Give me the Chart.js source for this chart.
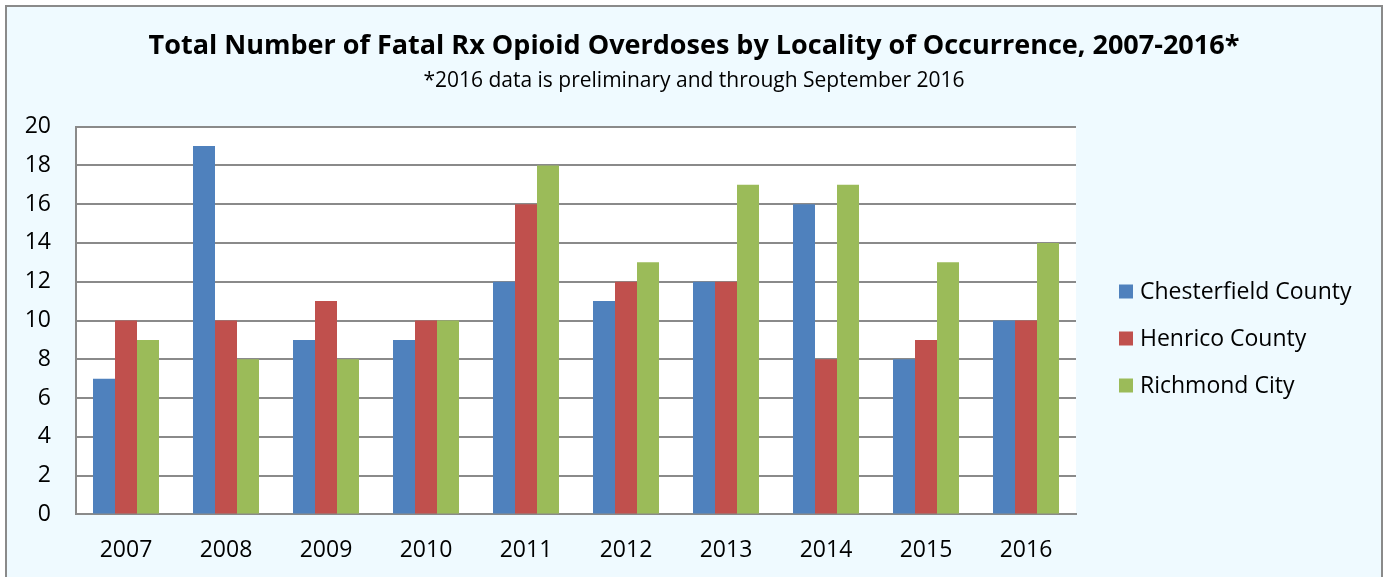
<!DOCTYPE html>
<html>
<head>
<meta charset="utf-8">
<script src="https://cdn.jsdelivr.net/npm/chart.js@4.4.1/dist/chart.umd.min.js"></script>
<style>
  html, body { margin: 0; padding: 0; background: #fff; overflow: hidden; }
  #frame {
    position: absolute; left: 5px; top: 5px;
    width: 1374px; height: 600px;
    border: 2px solid #8a8a8a;
    background: #effaff;
  }
  canvas { display: block; }
</style>
</head>
<body>
<div id="frame"><canvas id="chart" width="1374" height="600"></canvas></div>
<script>
const years = ['2007', '2008', '2009', '2010', '2011', '2012', '2013', '2014', '2015', '2016'];
const chesterfield = [7, 19, 9, 9, 12, 11, 12, 16, 8, 10];
const henrico = [10, 10, 11, 10, 16, 12, 12, 8, 9, 10];
const richmond = [9, 8, 8, 10, 18, 13, 17, 17, 13, 14];
const yTicks = [0, 2, 4, 6, 8, 10, 12, 14, 16, 18, 20];

const FONT = "'Open Sans', sans-serif";

// white plot area behind the bars
const plotBg = {
  id: 'plotBg',
  beforeDraw(chart) {
    const { ctx, chartArea: a } = chart;
    ctx.save();
    ctx.fillStyle = '#ffffff';
    ctx.fillRect(a.left, a.top, a.right - a.left, a.bottom - a.top);
    ctx.restore();
  },
};

// legend drawn to the right of the plot, like the spreadsheet original
const sideLegend = {
  id: 'sideLegend',
  afterDraw(chart) {
    const { ctx, chartArea: a } = chart;
    const x = a.right + 43;
    const mid = (a.top + a.bottom) / 2 + 18;
    const gap = 47;
    ctx.save();
    ctx.font = '23px ' + FONT;
    ctx.textBaseline = 'middle';
    chart.data.datasets.forEach((ds, i) => {
      const y = mid + (i - 1) * gap;
      ctx.fillStyle = ds.backgroundColor;
      ctx.fillRect(x, y - 7, 14, 14);
      ctx.fillStyle = '#000';
      ctx.fillText(ds.label, x + 21, y + 1);
    });
    ctx.restore();
  },
};

new Chart(document.getElementById('chart'), {
  type: 'bar',
  data: {
    labels: years,
    datasets: [
      { label: 'Chesterfield County', data: chesterfield, backgroundColor: '#4f81bd' },
      { label: 'Henrico County', data: henrico, backgroundColor: '#c0504d' },
      { label: 'Richmond City', data: richmond, backgroundColor: '#9bbb59' },
    ],
  },
  options: {
    responsive: false,
    animation: false,
    devicePixelRatio: 1,
    categoryPercentage: 0.66,
    barPercentage: 1,
    layout: { padding: { left: 0, right: 0, bottom: 29, top: 0 } },
    plugins: {
      legend: { display: false },
      tooltip: { enabled: false },
      title: {
        display: true,
        text: 'Total Number of Fatal Rx Opioid Overdoses by Locality of Occurrence, 2007-2016*',
        color: '#000',
        font: { family: FONT, size: 27, weight: 'bold', lineHeight: 1.2 },
        padding: { top: 23, bottom: 0 },
      },
      subtitle: {
        display: true,
        text: '*2016 data is preliminary and through September 2016',
        color: '#000',
        font: { family: FONT, size: 21, lineHeight: 1.2 },
        padding: { top: 6, bottom: 33 },
      },
    },
    scales: {
      x: {
        grid: { display: false },
        border: { color: '#8a8a8a', width: 2 },
        ticks: { color: '#000', font: { family: FONT, size: 23 }, padding: 14 },
      },
      y: {
        min: 0,
        max: 20,
        afterBuildTicks(axis) { axis.ticks = yTicks.map(v => ({ value: v })); },
        afterFit(axis) { axis.width = 69; },
        grid: { color: '#8a8a8a', lineWidth: 2, drawTicks: false },
        border: { color: '#8a8a8a', width: 2 },
        ticks: { color: '#000', font: { family: FONT, size: 23 }, padding: 25 },
      },
      // empty axis that only reserves room for the legend on the right
      space: {
        position: 'right',
        afterFit(axis) { axis.width = 305; },
        grid: { display: false },
        border: { display: false },
        ticks: { display: false },
      },
    },
  },
  plugins: [plotBg, sideLegend],
});
</script>
</body>
</html>
